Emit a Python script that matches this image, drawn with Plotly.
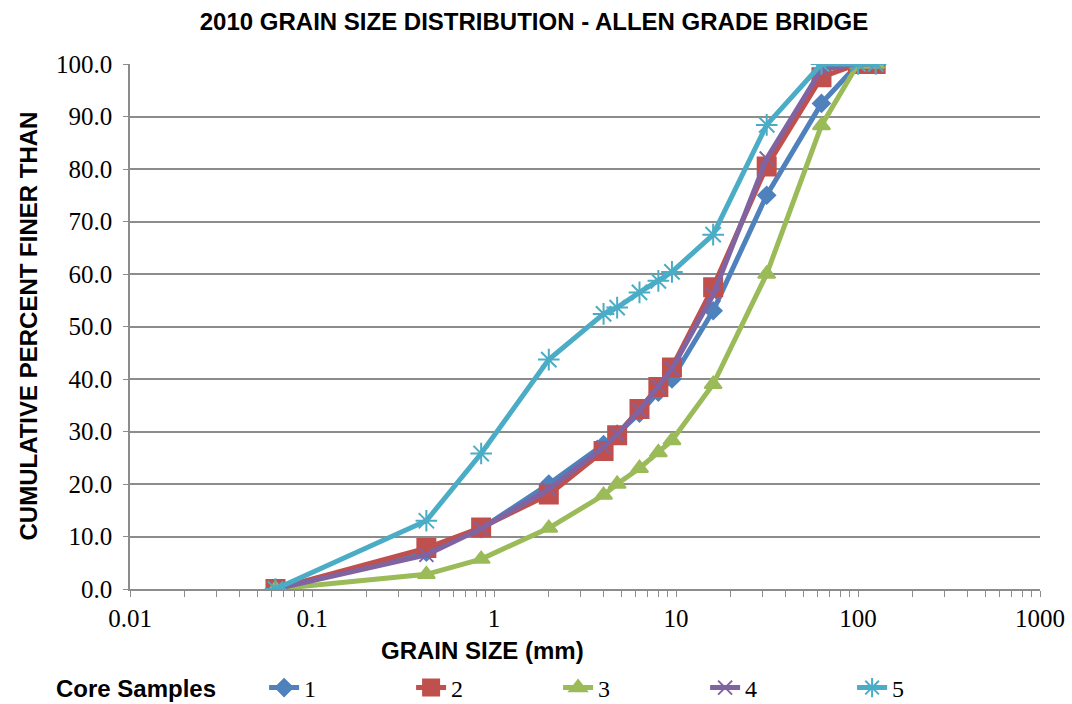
import plotly.graph_objects as go

sizes = [0.063, 0.425, 0.85, 2, 4, 4.75, 6.3, 8, 9.5, 16, 31.5, 63, 100, 125]
s1 = [0, 7.0, 11.5, 20.0, 27.5, 29.5, 33.5, 37.5, 40.0, 53.0, 75.0, 92.5, 100, 100]
s2 = [0, 7.8, 11.7, 18.0, 26.3, 29.3, 34.3, 38.5, 42.2, 57.5, 80.5, 97.5, 100, 100]
s3 = [0, 2.8, 5.7, 11.6, 17.9, 20.0, 23.0, 26.0, 28.3, 39.0, 60.0, 88.3, 100, 100]
s4 = [0, 6.5, 11.5, 19.0, 27.0, 29.5, 34.0, 38.5, 42.0, 56.0, 82.0, 99.0, 100, 100]
s5 = [0, 13.0, 25.8, 43.7, 52.4, 53.6, 56.5, 58.7, 60.4, 67.5, 88.4, 100, 100, 100]
names = ["1", "2", "3", "4", "5"]
colors = ["#4F81BD", "#C0504D", "#9BBB59", "#8064A2", "#4BACC6"]
symbols = ["diamond", "square", "triangle-up", "x-thin-open", "asterisk-open"]
msizes = [13, 18, 15, 14, 18]
xticks = [0.01, 0.1, 1, 10, 100, 1000]
xticktext = ["0.01", "0.1", "1", "10", "100", "1000"]
yticks = [0, 10, 20, 30, 40, 50, 60, 70, 80, 90, 100]

fig = go.Figure()
for name, ys, c, sym, ms in zip(names, [s1, s2, s3, s4, s5], colors, symbols, msizes):
    fig.add_trace(go.Scatter(
        x=sizes, y=ys, name=name, mode="lines+markers",
        line=dict(color=c, width=5),
        marker=dict(symbol=sym, size=ms, color=c, line=dict(color=c, width=2)),
    ))

grid = "#8C8C8C"
serif = "Liberation Serif, Times New Roman, serif"
sans = "Liberation Sans, Arial, sans-serif"
fig.update_layout(
    width=1072, height=704,
    margin=dict(l=130, r=32, t=64, b=115, autoexpand=False),
    paper_bgcolor="white", plot_bgcolor="white",
    title=dict(text="<b>2010 GRAIN SIZE DISTRIBUTION - ALLEN GRADE BRIDGE</b>",
               x=534 / 1072, xanchor="center", y=1 - 22 / 704, yanchor="middle",
               font=dict(family=sans, size=24, color="black")),
    xaxis=dict(type="log", range=[-2, 3], tickvals=xticks, ticktext=xticktext,
               showgrid=False, showline=True, linecolor=grid, linewidth=1.5,
               ticks="outside", ticklen=6, tickcolor=grid,
               minor=dict(ticks="outside", ticklen=6, tickcolor=grid, dtick="D1", showgrid=False),
               tickfont=dict(family=serif, size=25, color="black"),
               zeroline=False),
    yaxis=dict(range=[0, 100], tickvals=yticks, tickformat=".1f",
               showgrid=True, gridcolor=grid, gridwidth=1.5,
               showline=True, linecolor=grid, linewidth=1.5,
               ticks="outside", ticklen=5, tickcolor=grid, ticklabelstandoff=6,
               tickfont=dict(family=serif, size=25, color="black"),
               zeroline=False),
    legend=dict(orientation="h", x=54 / 1072, xanchor="left",
                y=-(688 - 589) / 525, yanchor="middle",
                xref="container", yref="paper",
                entrywidth=102, entrywidthmode="pixels",
                title=dict(text="<b>Core Samples</b>\u00a0\u00a0\u00a0\u00a0\u00a0\u00a0", side="left",
                           font=dict(family="Liberation Sans Narrow, Arial Narrow, Liberation Sans", size=24, color="black")),
                font=dict(family=serif, size=24, color="black")),
    showlegend=True,
)
fig.add_annotation(text="<b>GRAIN SIZE (mm)</b>", xref="paper", yref="paper",
                   x=(482 - 130) / 910, y=-(650 - 589) / 525, xanchor="center", yanchor="middle",
                   showarrow=False, font=dict(family=sans, size=24, color="black"))
fig.add_annotation(text="<b>CUMULATIVE PERCENT FINER THAN</b>", xref="paper", yref="paper",
                   x=-(130 - 28) / 910, y=0.5, xanchor="center", yanchor="middle", textangle=-90,
                   showarrow=False, font=dict(family=sans, size=24, color="black"))

fig.write_html("out.html")
